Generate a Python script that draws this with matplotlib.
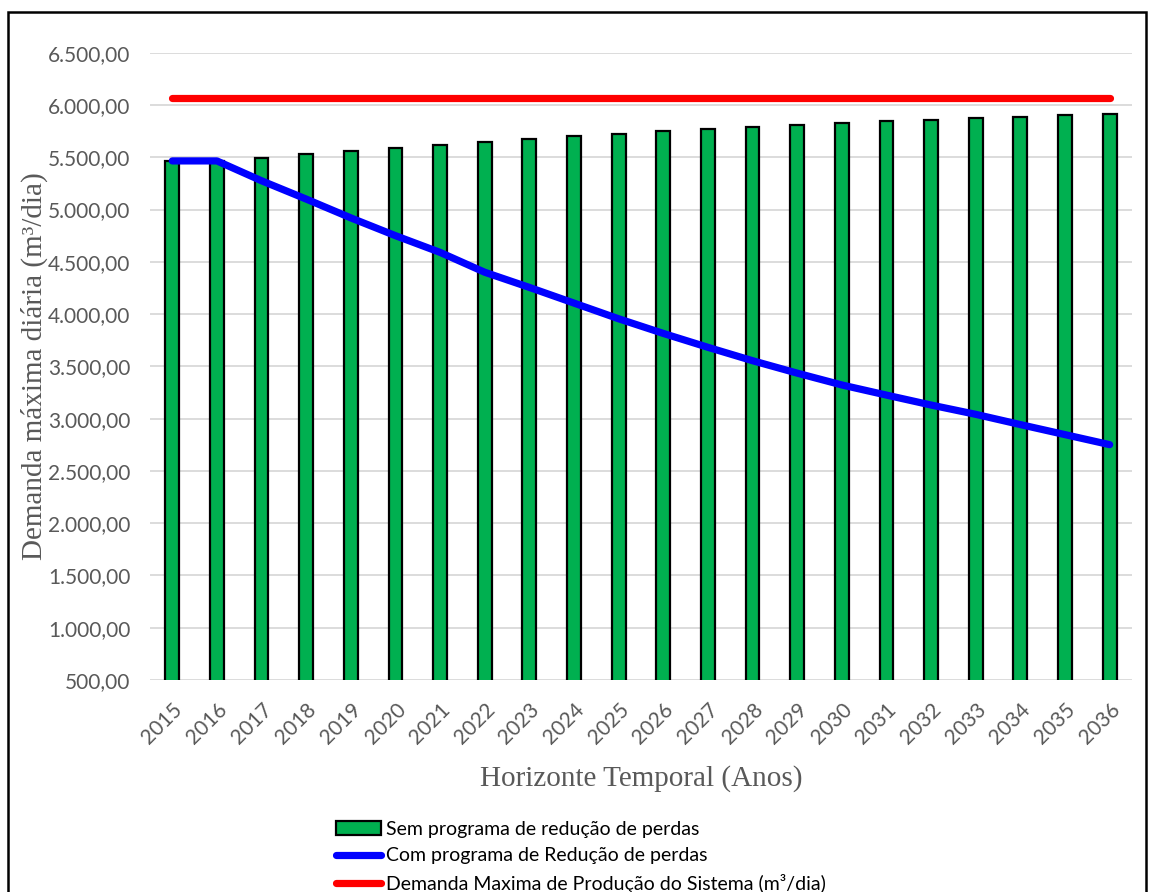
import matplotlib
matplotlib.use("Agg")
from matplotlib import pyplot as plt
from matplotlib.patches import Patch, Rectangle
from matplotlib.lines import Line2D
from matplotlib.ticker import FuncFormatter
import numpy as np

# years on the horizontal axis
anos = [str(a) for a in range(2015, 2037)]

# without loss-reduction programme (bars), m3/day
sem_programa = [5465, 5468, 5497, 5528, 5560, 5590, 5620, 5648, 5676, 5702,
                5727, 5750, 5772, 5793, 5812, 5830, 5846, 5858, 5874, 5889,
                5900, 5912]

# with loss-reduction programme (blue line), m3/day
com_programa = [5465, 5465, 5275, 5100, 4920, 4750, 4590, 4400, 4255, 4105,
                3955, 3815, 3682, 3554, 3435, 3322, 3225, 3130, 3041, 2943,
                2847, 2751]

# max production demand of the system (red line), m3/day
demanda_max = [6068] * len(anos)

cinza = "#595959"

fig = plt.figure(figsize=(11.52, 8.92), dpi=100)
ax = fig.add_axes([0.1302, 0.2377, 0.8524, 0.7032])

x = np.arange(len(anos))
ax.bar(x, sem_programa, width=0.31, color="#00B050", edgecolor="black",
       linewidth=1.6, zorder=2)
ax.plot(x, com_programa, color="#0000FF", lw=5.2, solid_capstyle="round",
        solid_joinstyle="round", zorder=3)
ax.plot(x, demanda_max, color="#FF0000", lw=5.2, solid_capstyle="round", zorder=3)

ax.set_xlim(-0.5, len(anos) - 0.5)
ax.set_ylim(500, 6500)
ax.set_yticks(np.arange(500, 6501, 500))
# brazilian number format: 6.500,00
ax.yaxis.set_major_formatter(FuncFormatter(
    lambda v, p: f"{v:,.2f}".replace(",", "X").replace(".", ",").replace("X", ".")))
ax.set_xticks(x)
ax.set_xticklabels(anos, rotation=45, ha="right", rotation_mode="anchor")

ax.grid(axis="y", color="#D9D9D9", lw=1.3, zorder=0)
ax.set_axisbelow(True)
for s in ax.spines.values():
    s.set_visible(False)
ax.tick_params(axis="both", length=0, colors=cinza, labelsize=15)
ax.tick_params(axis="y", pad=14)
ax.tick_params(axis="x", pad=14)
for lab in ax.get_xticklabels() + ax.get_yticklabels():
    lab.set_family("Lato")

ax.set_ylabel("Demanda máxima diária (m³/dia)", family="Liberation Serif",
              fontsize=21, color=cinza)
ax.yaxis.set_label_coords(-0.104, 0.5)
ax.set_xlabel("Horizonte Temporal (Anos)", family="Liberation Serif",
              fontsize=21, color=cinza)
ax.xaxis.set_label_coords(0.5, -0.136)

handles = [
    Patch(facecolor="#00B050", edgecolor="black", linewidth=1.6),
    Line2D([], [], color="#0000FF", lw=5.2, solid_capstyle="round"),
    Line2D([], [], color="#FF0000", lw=5.2, solid_capstyle="round"),
]
labels = ["Sem programa de redução de perdas",
          "Com programa de Redução de perdas",
          "Demanda Maxima de Produção do Sistema (m³/dia)"]
fig.legend(handles, labels, loc="upper left", bbox_to_anchor=(0.2917, 0.080),
           frameon=False, prop={"family": "Lato", "size": 14},
           handlelength=2.3, handletextpad=0.25, labelspacing=0.5,
           borderaxespad=0, borderpad=0)

# outer frame of the figure box
fig.patches.append(Rectangle((0.007, -0.05), 0.988, 1.036, transform=fig.transFigure,
                             fill=False, edgecolor="black", lw=1.8))

fig.savefig("out.png", dpi=100)
